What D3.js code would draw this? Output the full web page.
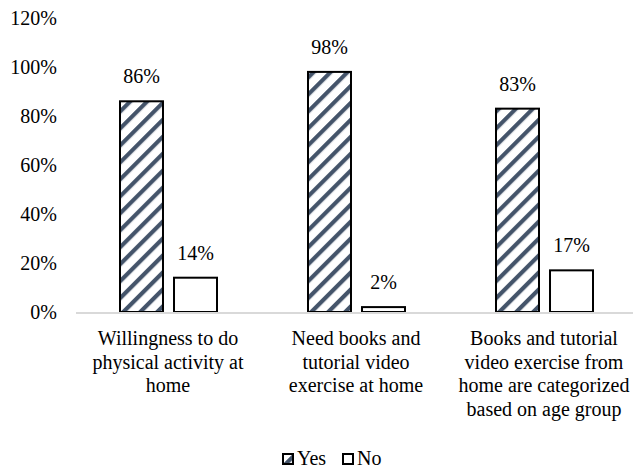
<!DOCTYPE html>
<html>
<head>
<meta charset="utf-8">
<script src="https://cdn.jsdelivr.net/npm/d3@7"></script>
</head>
<body style="margin:0">
<div id="wrap"></div>
<script>
// ---- Data ----
const categories = [
  "Willingness to do physical activity at home",
  "Need books and tutorial video exercise at home",
  "Books and tutorial video exercise from home are categorized based on age group"
];
const categoryLines = [
  ["Willingness to do", "physical activity at", "home"],
  ["Need books and", "tutorial video", "exercise at home"],
  ["Books and tutorial", "video exercise from", "home are categorized", "based on age group"]
];
const series = ["Yes", "No"];
const yesValues = [0.86, 0.98, 0.83];
const noValues = [0.14, 0.02, 0.17];
const yTicks = [0, 0.2, 0.4, 0.6, 0.8, 1.0, 1.2];

const FONT = "'Liberation Serif'";

// ---- Layout ----
const svg = d3.select("#wrap").append("svg")
  .attr("id", "viz")
  .attr("width", 633).attr("height", 468)
  .style("display", "block")
  .style("background", "#fff");
const baseY = 312, topY = 18;
const x0 = d3.scaleBand().domain(categories).range([76, 640]).paddingInner(0).paddingOuter(0);
const x1 = d3.scaleBand().domain(series).range([44, 141]).paddingInner(0.204).paddingOuter(0);
const y = d3.scaleLinear().domain([0, 1.2]).range([baseY, topY]);

function serif(sel) {
  sel.each(function () {
    this.style.setProperty("font-family", FONT, "important");
    this.style.setProperty("font-size", "20px", "important");
  });
  return sel.attr("fill", "#000");
}

// hatch pattern
const defs = svg.append("defs");
const pat = defs.append("pattern")
  .attr("id", "hatch")
  .attr("patternUnits", "userSpaceOnUse")
  .attr("width", 12).attr("height", 12)
  .attr("patternTransform", "rotate(45)");
pat.append("rect").attr("width", 12).attr("height", 12).attr("fill", "#fff");
pat.append("rect").attr("x", 0).attr("y", 0).attr("width", 4.2).attr("height", 12).attr("fill", "#44546a");

// y axis (labels only)
const yAxis = d3.axisLeft(y).tickValues(yTicks).tickFormat(d3.format(".0%")).tickSize(0).tickPadding(0);
const yg = svg.append("g").attr("transform", "translate(57,0)").call(yAxis);
yg.attr("font-family", null).attr("font-size", null);
yg.select(".domain").remove();
serif(yg.selectAll("text")).attr("dy", "0.33em");

// bars
const data = categories.map((c, i) => ({cat: c, vals: [
  {s: "Yes", v: yesValues[i]}, {s: "No", v: noValues[i]}
]}));

const groups = svg.append("g").selectAll("g").data(data).join("g")
  .attr("transform", d => `translate(${x0(d.cat)},0)`);

groups.selectAll("rect").data(d => d.vals).join("rect")
  .attr("x", d => x1(d.s))
  .attr("y", d => y(d.v))
  .attr("width", x1.bandwidth())
  .attr("height", d => baseY - y(d.v))
  .attr("fill", d => d.s === "Yes" ? "url(#hatch)" : "#fff")
  .attr("stroke", "#000")
  .attr("stroke-width", 2);

serif(groups.selectAll("text.val").data(d => d.vals).join("text"))
  .attr("class", "val")
  .attr("x", d => x1(d.s) + x1.bandwidth() / 2)
  .attr("y", d => y(d.v) - 18)
  .attr("text-anchor", "middle")
  .text(d => d3.format(".0%")(d.v));

// x axis line
svg.append("line")
  .attr("x1", x0.range()[0]).attr("x2", x0.range()[1])
  .attr("y1", y(0) + 1).attr("y2", y(0) + 1)
  .attr("stroke", "#d9d9d9").attr("stroke-width", 2);

// category labels
categories.forEach((c, i) => {
  const cx = x0(c) + x0.bandwidth() / 2 - 2;
  const t = serif(svg.append("text"))
    .attr("x", cx)
    .attr("y", 345)
    .attr("text-anchor", "middle");
  categoryLines[i].forEach((ln, j) => {
    t.append("tspan").attr("x", cx).attr("y", 345 + j * 23.5).text(ln);
  });
});

// legend
const legendX = [283, 343];
const lg = svg.append("g");
series.forEach((s, i) => {
  lg.append("rect")
    .attr("x", legendX[i]).attr("y", 454)
    .attr("width", 10).attr("height", 10)
    .attr("fill", s === "Yes" ? "url(#hatch)" : "#fff")
    .attr("stroke", "#000").attr("stroke-width", 2);
  serif(lg.append("text"))
    .attr("x", legendX[i] + 14).attr("y", 465)
    .text(s);
});
</script>
</body>
</html>
